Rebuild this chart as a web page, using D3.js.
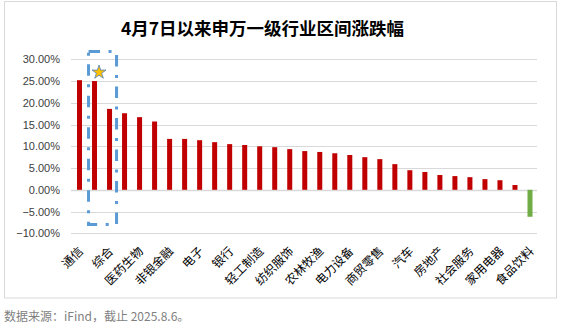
<!DOCTYPE html>
<html><head><meta charset="utf-8">
<script src="https://cdn.jsdelivr.net/npm/d3@7"></script>
<style>
html,body{margin:0;padding:0;background:#fff;}
svg{display:block;}
</style></head>
<body>
<svg id="c" width="561" height="333"></svg>
<script>
const title = "4月7日以来申万一级行业区间涨跌幅";
const source = "数据来源：iFind，截止 2025.8.6。";
const categories = ["通信","有色金属","综合","国防军工","医药生物","传媒","非银金融","机械设备","电子","钢铁",
  "银行","计算机","轻工制造","基础化工","纺织服饰","建筑材料","农林牧渔","环保","电力设备","交通运输",
  "商贸零售","美容护理","汽车","公用事业","房地产","建筑装饰","社会服务","石油石化","家用电器","煤炭","食品饮料"];
const values = [25.2,25.0,18.6,17.6,16.7,15.7,11.7,11.7,11.4,10.95,
  10.5,10.3,10.0,9.8,9.35,8.9,8.7,8.4,8.0,7.5,
  7.05,5.9,4.5,4.1,3.4,3.15,2.9,2.45,2.2,1.1,-6.2];
const yTicks = [-10,-5,0,5,10,15,20,25,30];
const highlight = ["有色金属","综合"];

const svg = d3.select("#c");
const cjk = "'Noto Sans CJK SC','Noto Sans',sans-serif";

// frame
svg.append("rect").attr("x",4.5).attr("y",1.5).attr("width",552).attr("height",296.5)
  .attr("fill","none").attr("stroke","#d9d9d9").attr("stroke-width",1);

const x = d3.scaleBand().domain(categories).range([72,537.5]).paddingInner(0.667).paddingOuter(0.3335);
const y = d3.scaleLinear().domain([-10,30]).range([233.3,59.3]);

// grid
const g = svg.append("g");
g.selectAll("line.grid").data(yTicks).join("line")
  .attr("x1",71).attr("x2",537)
  .attr("y1",d=>Math.round(y(d))+0.5).attr("y2",d=>Math.round(y(d))+0.5)
  .attr("stroke","#d9d9d9").attr("stroke-width",d=>d===0?1.5:1);

// y axis labels
const yAxis = d3.axisLeft(y).tickValues(yTicks).tickSize(0).tickPadding(0)
  .tickFormat(d=>d3.format(".2f")(d)+"%");
svg.append("g").attr("transform","translate(60,0)").call(yAxis)
  .call(s=>s.select(".domain").remove())
  .selectAll("text").attr("font-family","'Liberation Sans',Arial,sans-serif")
  .attr("font-size","11px").attr("fill","#404040");

// bars
svg.append("g").selectAll("rect").data(categories).join("rect")
  .attr("x",d=>x(d)).attr("width",x.bandwidth())
  .attr("y",(d,i)=>y(Math.max(0,values[i])))
  .attr("height",(d,i)=>Math.abs(y(values[i])-y(0)))
  .attr("fill",(d,i)=>values[i]>=0?"#c00000":"#70ad47");

// x axis labels (every other)
const xAxis = d3.axisBottom(x).tickValues(categories.filter((d,i)=>i%2===0)).tickSize(0).tickPadding(0);
const xa = svg.append("g").attr("transform","translate(0,0)").call(xAxis);
xa.select(".domain").remove();
xa.selectAll(".tick text")
  .attr("font-family",cjk).attr("font-size","12px").attr("fill","#000")
  .attr("text-anchor","end").attr("dy",null).attr("y",null)
  .attr("transform",function(){ return "translate("+(x.bandwidth()/2+2)+",252) rotate(-45)"; });

// highlight box
const bx0 = x(highlight[0]) - 3.5, bx1 = x(highlight[1]) + x.bandwidth() + 4.5;
svg.append("rect").attr("x",bx0).attr("y",y(31.8)).attr("width",bx1-bx0).attr("height",y(-8)-y(31.8))
  .attr("fill","none").attr("stroke","#5b9bd5").attr("stroke-width",3)
  .attr("stroke-dasharray","11.5 8.5 3 8.5");

// star
const star = d3.symbol().type(d3.symbolStar).size(60);
svg.append("path").attr("d",star())
  .attr("transform","translate("+(x(highlight[0])+x.bandwidth()/2+4.5)+","+y(27)+")")
  .attr("fill","#ffc000").attr("stroke","#4f81bd").attr("stroke-width",0.8);

// title
svg.append("text").attr("x",262.5).attr("y",35).attr("text-anchor","middle")
  .attr("font-family",cjk).attr("font-weight","bold").attr("font-size","17.5px").attr("fill","#000")
  .text(title);

// source
svg.append("text").attr("x",4).attr("y",321)
  .attr("font-family",cjk).attr("font-size","12px").attr("fill","#7f7f7f")
  .text(source);
</script>
</body></html>
